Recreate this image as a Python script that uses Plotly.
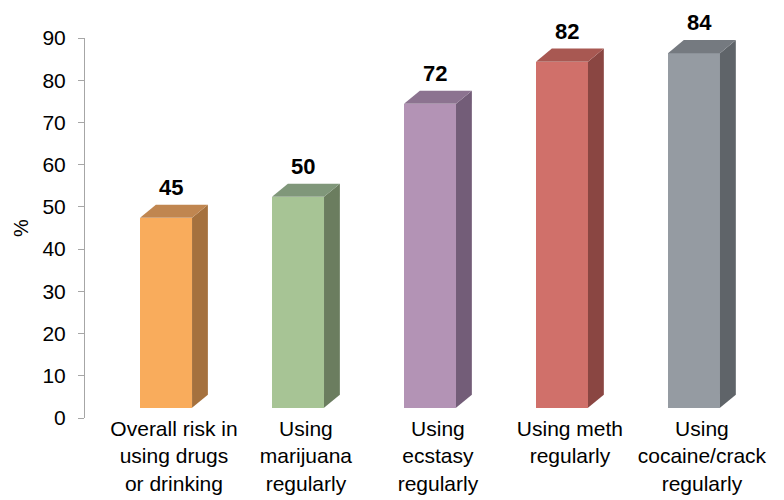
import plotly.graph_objects as go

categories = ["Overall risk in<br>using drugs<br>or drinking",
              "Using<br>marijuana<br>regularly",
              "Using<br>ecstasy<br>regularly",
              "Using meth<br>regularly",
              "Using<br>cocaine/crack<br>regularly"]
values = [45, 50, 72, 82, 84]
front_colors = ["#F9AC5C", "#A7C495", "#B393B5", "#D0706A", "#959BA2"]
side_colors = ["#A5713E", "#6B7D5F", "#735D78", "#8A4642", "#5F6469"]
top_colors = ["#C08650", "#80977A", "#8C7390", "#A85852", "#757A80"]

FW = 0.394   # front face width (category units)
DX = 0.12    # depth offset in x
DY = 3.1     # depth offset in y (value units)
DZ = 2.4     # floor offset of front face

fig = go.Figure()
xs = list(range(len(values)))

fig.add_trace(go.Bar(x=xs, y=values, base=[DZ] * len(values), width=FW,
                     marker=dict(color=front_colors, line=dict(width=0)),
                     showlegend=False, hoverinfo="skip"))

for i, v in enumerate(values):
    r = i + FW / 2
    l = i - FW / 2
    # side face
    fig.add_trace(go.Scatter(
        x=[r, r + DX, r + DX, r, r],
        y=[DZ, DZ + DY, DZ + DY + v, DZ + v, DZ],
        fill="toself", fillcolor=side_colors[i], mode="lines",
        line=dict(width=0, color=side_colors[i]), showlegend=False, hoverinfo="skip"))
    # top face
    fig.add_trace(go.Scatter(
        x=[l, l + DX, r + DX, r, l],
        y=[DZ + v, DZ + v + DY, DZ + v + DY, DZ + v, DZ + v],
        fill="toself", fillcolor=top_colors[i], mode="lines",
        line=dict(width=0, color=top_colors[i]), showlegend=False, hoverinfo="skip"))
    fig.add_annotation(x=i + 0.04, y=DZ + v + DY, text="<b>%d</b>" % v,
                       showarrow=False, yanchor="bottom", yshift=3,
                       font=dict(family="Liberation Sans, Arial", size=22, color="#000000"))

fig.update_layout(
    width=784, height=500,
    margin=dict(l=85, r=14, t=38, b=82),
    paper_bgcolor="white", plot_bgcolor="white",
    font=dict(family="Liberation Sans, Arial", color="#000000"),
    bargap=0,
)
fig.update_xaxes(range=[-0.614, 4.576], tickmode="array",
                 tickvals=[i + 0.06 for i in xs], ticktext=categories,
                 showline=False, showgrid=False, zeroline=False, ticks="",
                 tickfont=dict(size=21), tickangle=0, automargin=False,
                 ticklabelstandoff=-4)
fig.update_yaxes(range=[0, 90], dtick=10, showline=True, linecolor="#A6A6A6",
                 linewidth=1, ticks="outside", ticklen=6, tickcolor="#A6A6A6",
                 showgrid=False, zeroline=False, tickfont=dict(size=21),
                 automargin=False, ticklabelstandoff=8,
                 title=dict(text="%", font=dict(size=20), standoff=8))

fig.write_html("out.html")
